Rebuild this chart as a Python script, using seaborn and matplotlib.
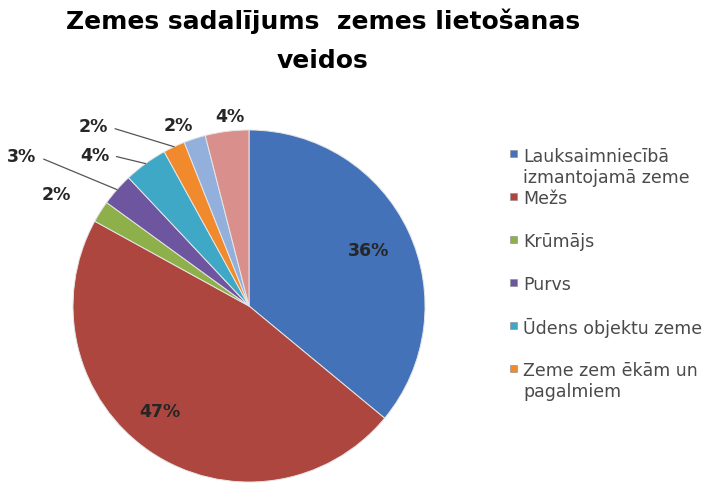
import numpy as np
import matplotlib
matplotlib.use("Agg")
import matplotlib.pyplot as plt
from matplotlib.patches import Rectangle
import seaborn as sns

# Dati
kategorijas = [
    "Lauksaimniecībā\nizmantojamā zeme",
    "Mežs",
    "Krūmājs",
    "Purvs",
    "Ūdens objektu zeme",
    "Zeme zem ēkām un\npagalmiem",
    "Zeme zem ceļiem",
    "Pārējās zemes",
]
daļas = [36, 47, 2, 3, 4, 2, 2, 4]
etiketes = ["36%", "47%", "2%", "3%", "4%", "2%", "2%", "4%"]
leģendā_redzamas = 6  # atsaucē redzami tikai pirmie 6 ieraksti

krāsas = ["#4472B8", "#AC463F", "#8DB04A", "#6E55A0",
          "#3FA8C6", "#F08A2C", "#93B0DC", "#D9908D"]

# etiķešu novietojums: (rādiuss, nobīde x, nobīde y, ar līniju)
etiķešu_vieta = [
    (0.75, 0.0, 0.0, False),
    (0.78, -0.07, 0.05, False),
    (1.0, -0.25, 0.10, False),
    (1.0, -0.54, 0.19, True),
    (1.0, -0.29, 0.05, True),
    (1.0, -0.46, 0.115, True),
    (1.0, -0.09, 0.08, False),
    (1.0, 0.015, 0.09, False),
]

sns.set_theme(style="white")
plt.rcParams['font.family'] = ['DejaVu Sans']

fig = plt.figure(figsize=(7.17, 4.85), dpi=100)
ax = fig.add_axes([0.1018, 0.004, 0.491, 0.726])

palete = sns.color_palette(krāsas)
wedges, _ = ax.pie(
    daļas, colors=palete, startangle=90, counterclock=False, radius=1,
    wedgeprops=dict(edgecolor="#e6e6e6", linewidth=0.7),
)
ax.set_xlim(-1, 1)
ax.set_ylim(-1, 1)
ax.set_aspect("equal")
ax.axis("off")

for w, txt, (r, dx, dy, līnija) in zip(wedges, etiketes, etiķešu_vieta):
    a = np.deg2rad((w.theta1 + w.theta2) / 2)
    px, py = r * np.cos(a), r * np.sin(a)
    if līnija:
        ax.annotate(
            txt, xy=(px, py), xytext=(px + dx, py + dy),
            ha="center", va="center", fontsize=12.5, fontweight="bold",
            color="#262626", annotation_clip=False,
            arrowprops=dict(arrowstyle="-", color="#555555", lw=0.9,
                            relpos=(1.0, 0.5), shrinkA=3, shrinkB=0),
        )
    else:
        ax.text(px + dx, py + dy, txt, ha="center", va="center",
                fontsize=12.5, fontweight="bold", color="#262626", clip_on=False)

# Virsraksts
fig.text(0.45, 1 - 9 / 485, "Zemes sadalījums  zemes lietošanas\nveidos",
         ha="center", va="top", fontsize=18, fontweight="bold",
         color="black", linespacing=1.75)

# Leģenda (Excel stilā, teksts līdzināts pēc pirmās rindas)
H = 485.0
W = 717.0
for i in range(leģendā_redzamas):
    yc = 154.6 + 42.9 * i
    fig.add_artist(Rectangle(((513 - 3.5) / W, 1 - (yc + 3.5) / H), 7 / W, 7 / H,
                             transform=fig.transFigure, facecolor=krāsas[i],
                             edgecolor="#888888", linewidth=0.4))
    for k, line in enumerate(kategorijas[i].split("\n")):
        fig.text(523 / W, 1 - (yc + 21 * k) / H, line, ha="left",
                 va="center_baseline", fontsize=12.5, color="#4a4a4a")

fig.savefig("out.png", dpi=100)
